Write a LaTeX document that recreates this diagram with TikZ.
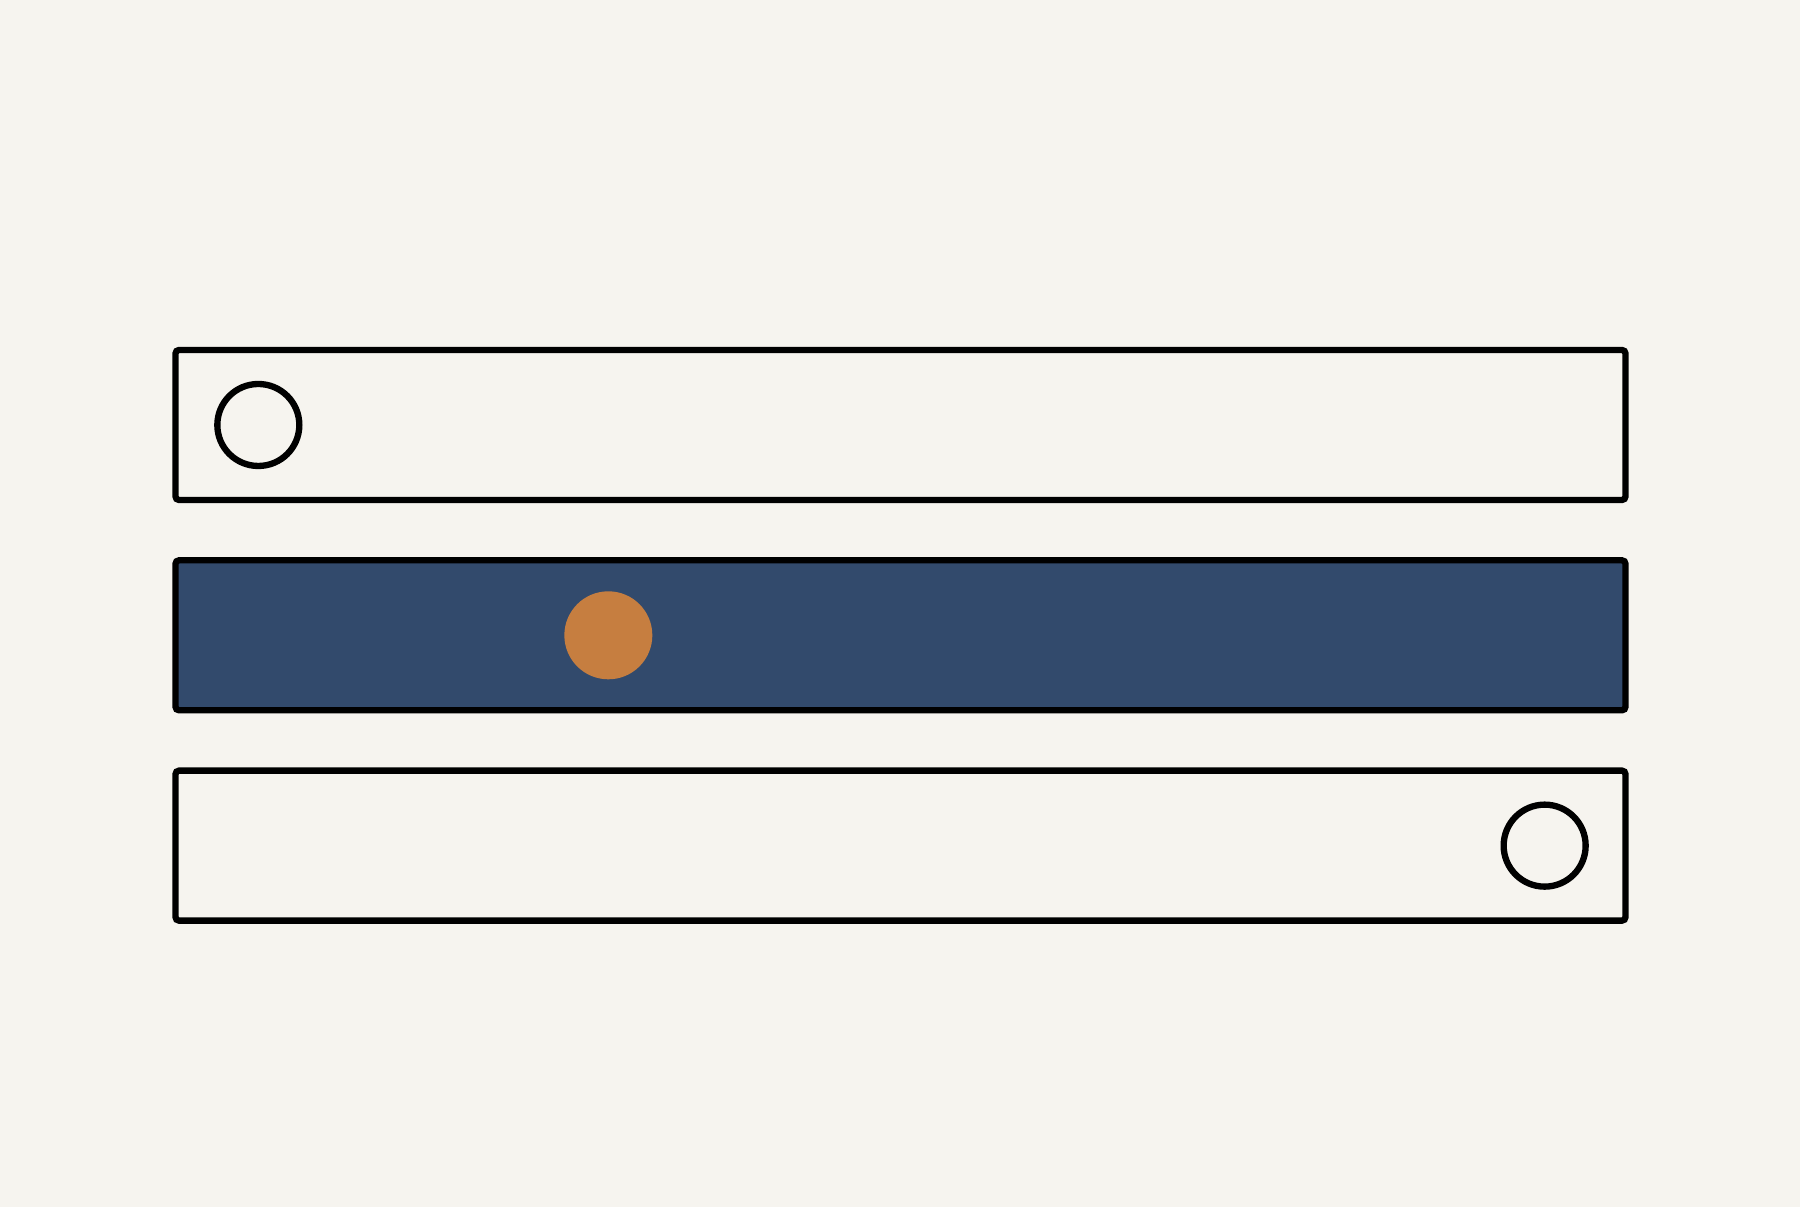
\documentclass[tikz,border=0pt]{standalone}
\usepackage{tikz}
\usetikzlibrary{positioning}
\usepackage{xcolor}
\definecolor{bgpaper}{RGB}{246,244,239}
\definecolor{barnavy}{RGB}{50,74,108}
\definecolor{dotorange}{RGB}{198,126,64}
\tikzstyle{barbox} = [draw=black, line width=1.8pt, rounded corners=1pt, minimum width=14.5cm, minimum height=1.5cm, inner sep=0pt]
\tikzstyle{ring} = [circle, draw=black, line width=1.8pt, minimum size=0.82cm, inner sep=0pt]
\tikzstyle{dot} = [circle, fill=dotorange, minimum size=0.88cm, inner sep=0pt]

\begin{document}
\begin{tikzpicture}
% Paper
\fill[bgpaper] (0,0) rectangle (18,12.07);
\useasboundingbox (0,0) rectangle (18,12.07);

% Bars
\node[barbox] (topbar) at (9.005,7.82) {};
\node[barbox, fill=barnavy, below=0.54cm of topbar] (midbar) {};
\node[barbox, below=0.54cm of midbar] (lowbar) {};

% Markers
\node[ring] (topring) at ([xshift=0.86cm]topbar.west) {};
\node[dot] (middot) at ([xshift=4.36cm]midbar.west) {};
\node[ring] (lowring) at ([xshift=-0.84cm]lowbar.east) {};
\end{tikzpicture}
\end{document}
